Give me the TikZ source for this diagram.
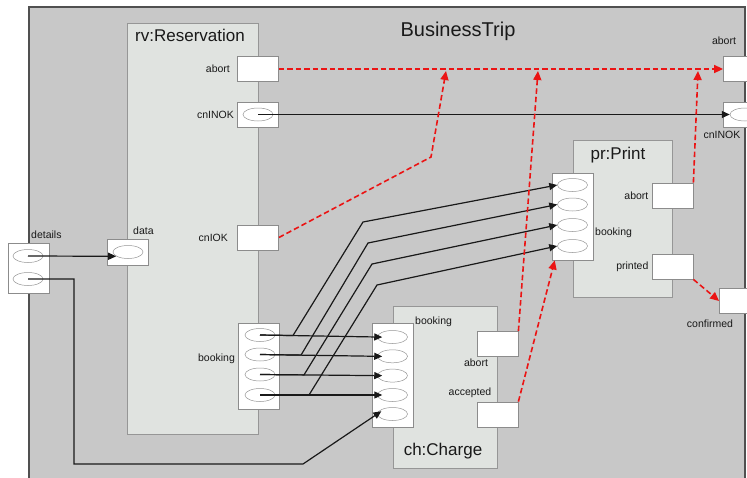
\documentclass[tikz,border=0pt]{standalone}
\usepackage{fontspec}
\setmainfont{Liberation Sans}
\usetikzlibrary{shapes.geometric,arrows.meta,positioning}
\definecolor{tripgray}{RGB}{200,200,200}
\definecolor{tripframe}{RGB}{80,80,80}
\definecolor{partfill}{RGB}{224,227,224}
\definecolor{partframe}{RGB}{150,150,150}
\definecolor{portframe}{RGB}{140,140,140}
\definecolor{pinframe}{RGB}{150,150,150}
\definecolor{inkgray}{RGB}{25,25,25}
\definecolor{abortred}{RGB}{235,20,20}

\begin{document}
\begin{tikzpicture}[x=1pt, y=-1pt]
    \tikzstyle{tripbox} = [draw=tripframe, line width=1.6pt, fill=tripgray, rectangle, inner sep=0pt, anchor=north west]
    \tikzstyle{part} = [draw=partframe, fill=partfill, rectangle, inner sep=0pt, line width=0.8pt]
    \tikzstyle{portbox} = [draw=portframe, fill=white, rectangle, inner sep=0pt, minimum width=41, minimum height=25, line width=0.8pt]
    \tikzstyle{socket} = [draw=pinframe, fill=white, ellipse, inner sep=0pt, minimum width=30, minimum height=13, line width=0.5pt]
    \tikzstyle{lbl} = [inner sep=0pt, text=inkgray, font=\fontsize{10.5}{12}\selectfont]
    \tikzstyle{parttitle} = [inner sep=0pt, text=inkgray, font=\fontsize{17}{20}\selectfont]
    \tikzstyle{flow} = [draw=inkgray, line width=1.2pt, -{Triangle[length=8pt, width=7pt]}]
    \tikzstyle{abortflow} = [draw=abortred, line width=1.6pt, dash pattern=on 5.5pt off 3pt, -{Triangle[length=9pt, width=8pt]}]

    \useasboundingbox (0,0) rectangle (747,477);
    \clip (0,0) rectangle (747,477);

    % outer composite and its parts
    \node [tripbox, minimum width=716, minimum height=520] (trip) at (28,6) {};
    \node [parttitle, font=\fontsize{20}{24}\selectfont] (triptitle) at (458,31) {BusinessTrip};
    \node [part, minimum width=131, minimum height=411] (rv) at (192.5,228.5) {};
    \node [part, minimum width=104, minimum height=162] (ch) at (445,387) {};
    \node [part, minimum width=99, minimum height=157] (pr) at (622.5,218.5) {};
    \node [parttitle] (rvtitle) at (190,35) {rv:Reservation};
    \node [parttitle] (prtitle) at (618,155) {pr:Print};
    \node [parttitle] (chtitle) at (443,451) {ch:Charge};

    % ports
    \node [portbox] (rvabort) at (258,69) {};
    \node [portbox] (rvnok) at (258,114.5) {};
    \node [portbox] (rvok) at (258,237.5) {};
    \node [portbox, minimum height=26] (rvdata) at (128,252) {};
    \node [portbox, minimum height=86] (rvbook) at (259,366) {};
    \node [portbox, minimum height=50] (details) at (28.5,268) {};
    \node [portbox, minimum height=104] (chbook) at (392.5,375) {};
    \node [portbox] (chabort) at (497.5,344) {};
    \node [portbox] (chacc) at (497.5,414.5) {};
    \node [portbox, minimum height=87] (prbook) at (572.5,216.5) {};
    \node [portbox] (prabort) at (672.5,195.5) {};
    \node [portbox] (prprinted) at (672.5,266.5) {};
    \node [portbox] (tripabort) at (744,69) {};
    \node [portbox] (tripnok) at (744,114.5) {};
    \node [portbox] (tripconf) at (740,301) {};

    % pins
    \node [socket] (rvnokp) at (rvnok) {};
    \node [socket] (datap) at (rvdata) {};
    \node [socket] (dt1) at (28,256) {};
    \node [socket] (dt2) at (28,279) {};
    \node [socket] (rb1) at (260,335) {};
    \node [socket] (rb2) at (260,354.5) {};
    \node [socket] (rb3) at (260,374.5) {};
    \node [socket] (rb4) at (260,395) {};
    \node [socket] (cb1) at (392.5,337) {};
    \node [socket] (cb2) at (392.5,356.3) {};
    \node [socket] (cb3) at (392.5,375.6) {};
    \node [socket] (cb4) at (392.5,395) {};
    \node [socket] (cb5) at (392.5,414) {};
    \node [socket] (pb1) at (572.5,185) {};
    \node [socket] (pb2) at (572.5,204.5) {};
    \node [socket] (pb3) at (572.5,225) {};
    \node [socket] (pb4) at (572.5,246) {};
    \node [socket] (tnp) at (745,114.5) {};

    % port labels
    \node [lbl, left=7pt of rvabort] (rvabortlbl) {abort};
    \node [lbl, left=3pt of rvnok] (rvnoklbl) {cnINOK};
    \node [lbl, left=9pt of rvok] (rvoklbl) {cnIOK};
    \node [lbl, left=3pt of rvbook, yshift=7pt] (rvbooklbl) {booking};
    \node [lbl, anchor=west] (datalbl) at (133,231) {data};
    \node [lbl, anchor=west] (detailslbl) at (31,235) {details};
    \node [lbl, anchor=west] (chbooklbl) at (415,322) {booking};
    \node [lbl] (chabortlbl) at (476,363) {abort};
    \node [lbl] (chacclbl) at (470,393) {accepted};
    \node [lbl, anchor=west] (prbooklbl) at (595,233) {booking};
    \node [lbl, left=3pt of prabort] (prabortlbl) {abort};
    \node [lbl, left=3pt of prprinted] (prprintedlbl) {printed};
    \node [lbl] (tripabortlbl) at (724,41) {abort};
    \node [lbl] (tripnoklbl) at (722,135) {cnINOK};
    \node [lbl] (tripconflbl) at (710,324) {confirmed};

    % bends and junctions
    \coordinate (d1) at (74,464);
    \coordinate (d2) at (303,464);
    \coordinate (br1) at (293,335.5);
    \coordinate (br2) at (301,355.1);
    \coordinate (br3) at (304,374.9);
    \coordinate (br4) at (309,395);
    \coordinate (kn1) at (363,222);
    \coordinate (kn2) at (368,243);
    \coordinate (kn3) at (372,264);
    \coordinate (kn4) at (377,285);
    \coordinate (ok1) at (431,157);
    \coordinate (j1) at (446,71);
    \coordinate (j2) at (538,71);
    \coordinate (j3) at (698,71);

    % data flows
    \draw [flow] (dt1.center) -- (datap.200);
    \draw [flow] (rvnokp.center) -- (tnp.west);
    \draw [flow, shorten >=-5pt] (dt2.center) -| (d1) -- (d2) -- (cb5.west);
    \draw [flow, shorten >=-5pt] (rb1.center) -- (cb1.west);
    \draw [flow, shorten >=-5pt] (rb2.center) -- (cb2.west);
    \draw [flow, shorten >=-5pt] (rb3.center) -- (cb3.west);
    \draw [flow, shorten >=-5pt] (rb4.center) -- (cb4.west);
    \draw [flow] (rb1.center) -- (br1) -- (kn1) -- (pb1.west);
    \draw [flow] (rb2.center) -- (br2) -- (kn2) -- (pb2.west);
    \draw [flow] (rb3.center) -- (br3) -- (kn3) -- (pb3.west);
    \draw [flow] (rb4.center) -- (br4) -- (kn4) -- (pb4.west);

    % control flows
    \draw [abortflow] (rvabort.east) -- (tripabort.west);
    \draw [abortflow] (rvok.east) -- (ok1) -- (j1);
    \draw [abortflow] (chabort.north east) -- (j2);
    \draw [abortflow] (prabort.north east) -- (j3);
    \draw [abortflow] (chacc.north east) -- (prbook.248);
    \draw [abortflow] (prprinted.south east) -- (tripconf.west);
\end{tikzpicture}
\end{document}
